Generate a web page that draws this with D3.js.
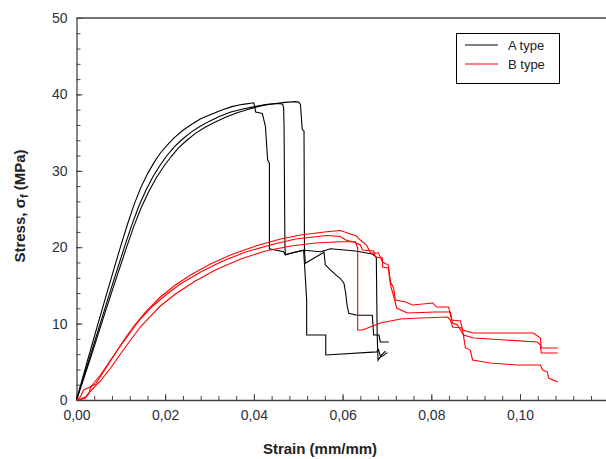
<!DOCTYPE html>
<html>
<head>
<meta charset="utf-8">
<script src="https://cdn.jsdelivr.net/npm/d3@7"></script>
<style>
body { margin: 0; background: #fff; }
svg { display: block; font-family: "Liberation Sans", Arial, sans-serif; }
</style>
</head>
<body>
<div id="chart"></div>
<script>
let w = 606;
let h = 459;

// strain (mm/mm), stress (MPa)
let aType1 = [[0,0],[0.0025,5.2],[0.005,10.3],[0.0075,15.3],[0.01,20.2],[0.0115,23],[0.013,25.6],[0.0145,27.8],[0.016,29.6],[0.0175,31.1],[0.019,32.4],[0.0205,33.4],[0.022,34.3],[0.024,35.3],[0.026,36.1],[0.028,36.8],[0.03,37.3],[0.0325,37.9],[0.035,38.4],[0.0375,38.7],[0.040,38.9],[0.0404,37.7],[0.0419,37.5],[0.0426,35.8],[0.0431,31.4],[0.0435,31.0],[0.0435,19.8],[0.0467,19.4],[0.0471,19.0],[0.0483,19.2],[0.0512,19.6],[0.0514,17.9],[0.0519,13.1],[0.0519,8.5],[0.0562,8.5],[0.0562,5.9],[0.0677,6.3],[0.0681,6.6],[0.0686,5.6],[0.0701,6.2]];
let aType2 = [[0,0],[0.0028,5.2],[0.0055,10.3],[0.0082,15.3],[0.0108,20],[0.0124,22.8],[0.014,25.3],[0.0156,27.4],[0.0172,29.2],[0.0188,30.7],[0.0204,32],[0.022,33.1],[0.0236,34],[0.0257,35],[0.0278,35.8],[0.03,36.5],[0.0322,37.1],[0.0348,37.7],[0.0375,38.1],[0.0402,38.4],[0.043,38.7],[0.0456,38.8],[0.0465,38.7],[0.0467,38.2],[0.0468,35.8],[0.047,20],[0.0471,19.0],[0.0483,19.2],[0.0512,19.6],[0.055,19.4],[0.0573,19.8],[0.0629,19.5],[0.0667,19.1],[0.0676,18.7],[0.0678,8.5],[0.068,5.2],[0.0688,5.9],[0.0697,6.4]];
let aType3 = [[0,0],[0.003,5.2],[0.0058,10.3],[0.0086,15.3],[0.0113,20],[0.0129,22.7],[0.0146,25.2],[0.0163,27.3],[0.018,29.1],[0.0197,30.6],[0.0214,31.9],[0.023,33],[0.0247,33.9],[0.0268,34.9],[0.029,35.7],[0.0313,36.4],[0.0336,37],[0.0362,37.6],[0.039,38.1],[0.0415,38.5],[0.044,38.75],[0.047,38.95],[0.0494,39.05],[0.0501,39.0],[0.0505,38.7],[0.0509,35.4],[0.0513,35.2],[0.0514,19.6],[0.0516,17.9],[0.0554,19.2],[0.0558,19.4],[0.0561,17.7],[0.0573,17.0],[0.0584,16.4],[0.0595,15.9],[0.0603,15.3],[0.0607,14.0],[0.061,12.4],[0.0614,11.35],[0.0633,11.1],[0.0667,11.1],[0.067,8.5],[0.0682,8.5],[0.0685,7.6],[0.0704,7.6]];

let bType1 = [[0,0],[0.0009,0.43],[0.0016,1.31],[0.0032,1.74],[0.0043,2.09],[0.0065,4.06],[0.0088,6.15],[0.011,8.12],[0.0133,9.95],[0.0156,11.52],[0.0189,13.48],[0.0223,15.05],[0.0257,16.36],[0.0302,17.8],[0.0347,18.98],[0.0404,20.16],[0.046,21.07],[0.0505,21.6],[0.0564,22.03],[0.0595,22.19],[0.0611,21.86],[0.0631,21.47],[0.064,20.94],[0.0654,20.29],[0.0663,19.24],[0.0681,19.24],[0.069,18.06],[0.0703,17.67],[0.0708,15.45],[0.0715,14.66],[0.0719,13.09],[0.0742,12.83],[0.0758,12.43],[0.0803,12.7],[0.0812,12.17],[0.0839,12.17],[0.0846,10.47],[0.0866,10.34],[0.087,9.16],[0.0895,8.77],[0.103,8.77],[0.1046,8.12],[0.1048,6.81],[0.1085,6.81]];
let bType2 = [[0.0005,0],[0.002,0.22],[0.0028,0.88],[0.0032,1.7],[0.0054,3.27],[0.0077,5.24],[0.0099,7.07],[0.0122,8.9],[0.0144,10.6],[0.0167,12.04],[0.0201,13.74],[0.0234,15.18],[0.028,16.75],[0.0325,18.06],[0.0381,19.37],[0.0437,20.29],[0.0494,21.07],[0.0564,21.53],[0.0595,21.4],[0.0607,20.94],[0.0625,20.68],[0.064,20.29],[0.0645,19.63],[0.067,19.5],[0.0674,18.72],[0.069,18.59],[0.069,17.41],[0.0703,17.28],[0.0708,15.05],[0.0715,13.61],[0.0722,12.04],[0.0746,11.39],[0.0809,11.52],[0.0843,11.52],[0.0848,10.08],[0.0859,9.82],[0.0873,8.51],[0.0895,8.12],[0.1039,7.59],[0.1046,7.2],[0.1048,6.15],[0.1085,6.15]];
let bType3 = [[0.0002,0],[0.0009,0.13],[0.002,0.39],[0.0032,1.18],[0.0054,2.49],[0.0077,4.19],[0.0099,6.02],[0.0122,7.85],[0.0144,9.55],[0.0167,10.99],[0.0189,12.3],[0.0223,13.87],[0.0268,15.58],[0.0313,17.02],[0.037,18.46],[0.0426,19.5],[0.0483,20.16],[0.0539,20.55],[0.0595,20.72],[0.0629,20.72],[0.0634,19.9],[0.0634,9.16],[0.0645,9.16],[0.0685,10.08],[0.0731,10.6],[0.0776,10.73],[0.0837,10.86],[0.0843,10.47],[0.0848,9.55],[0.087,9.42],[0.0873,8.25],[0.0877,6.81],[0.0888,6.54],[0.0893,5.24],[0.0933,4.84],[0.0994,4.58],[0.1046,4.58],[0.1051,3.93],[0.1062,3.66],[0.1064,2.88],[0.1085,2.36]];

let xTicks = [0, 0.02, 0.04, 0.06, 0.08, 0.10];
let yTicks = [0, 10, 20, 30, 40, 50];
let legendNames = ["A type", "B type"];
let legendColors = ["#000000", "#ff0000"];

let svg = d3.select("#chart")
    .append("svg")
    .attr("width", w)
    .attr("height", h);

let x = d3.scaleLinear().domain([0, 0.12]).range([76.5, 76.5 + 0.12 * 4435]);
let y = d3.scaleLinear().domain([0, 50]).range([400, 18]);

let xMinor = d3.range(0, 0.1201, 0.004);
let yMinor = d3.range(0, 50.01, 2);

// frame on top
svg.append("line")
    .attr("x1", x(0)).attr("x2", w)
    .attr("y1", y(50)).attr("y2", y(50))
    .attr("stroke", "#444").attr("stroke-width", 1.3);

// minor ticks (inside)
svg.append("g")
    .attr("transform", `translate(0,${y(0)})`)
    .call(d3.axisBottom(x).tickValues(xMinor).tickSize(-4).tickFormat(""))
    .call(g => g.select(".domain").remove())
    .selectAll("line").attr("stroke", "#444");
svg.append("g")
    .attr("transform", `translate(${x(0)},0)`)
    .call(d3.axisLeft(y).tickValues(yMinor).tickSize(-4).tickFormat(""))
    .call(g => g.select(".domain").remove())
    .selectAll("line").attr("stroke", "#444");

// main axes
let xAxis = svg.append("g")
    .attr("transform", `translate(0,${y(0)})`)
    .call(d3.axisBottom(x).tickValues(xTicks).tickSize(-6).tickSizeOuter(0).tickPadding(10)
        .tickFormat(d => d3.format(".2f")(d).replace(".", ",")));
let yAxis = svg.append("g")
    .attr("transform", `translate(${x(0)},0)`)
    .call(d3.axisLeft(y).tickValues(yTicks).tickSize(-6).tickSizeOuter(0).tickPadding(9));

[xAxis, yAxis].forEach(g => {
    g.select(".domain").attr("stroke", "#444").attr("stroke-width", 1.3);
    g.selectAll(".tick line").attr("stroke", "#444");
    g.selectAll("text")
        .attr("font-family", "'Liberation Sans', Arial, sans-serif")
        .attr("font-size", 14)
        .attr("fill", "#2e2e3a");
});

// curves
let line = d3.line().x(d => x(d[0])).y(d => y(d[1]));

let plot = svg.append("g");
[aType1, aType2, aType3].forEach(s => {
    plot.append("path").attr("d", line(s))
        .attr("fill", "none").attr("stroke", legendColors[0]).attr("stroke-width", 1.1);
});
[bType1, bType2, bType3].forEach(s => {
    plot.append("path").attr("d", line(s))
        .attr("fill", "none").attr("stroke", legendColors[1]).attr("stroke-width", 1.1);
});

// axis titles
svg.append("text")
    .attr("x", 320).attr("y", 454)
    .attr("text-anchor", "middle")
    .attr("font-size", 15).attr("font-weight", "bold")
    .attr("fill", "#222")
    .text("Strain (mm/mm)");

let yt = svg.append("text")
    .attr("transform", "translate(25,206) rotate(-90)")
    .attr("text-anchor", "middle")
    .attr("font-size", 15).attr("font-weight", "bold")
    .attr("fill", "#222");
yt.append("tspan").text("Stress, σ");
yt.append("tspan").attr("font-size", 11).attr("dy", 3).text("f");
yt.append("tspan").attr("dy", -3).text(" (MPa)");

// legend
let lg = svg.append("g");
lg.append("rect")
    .attr("x", 456.5).attr("y", 33.5).attr("width", 103).attr("height", 50)
    .attr("fill", "#fff").attr("stroke", "#000").attr("stroke-width", 1);
legendNames.forEach((n, i) => {
    lg.append("line")
        .attr("x1", 465).attr("x2", 498)
        .attr("y1", 45 + i * 19).attr("y2", 45 + i * 19)
        .attr("stroke", legendColors[i]).attr("stroke-width", 1);
    lg.append("text")
        .attr("x", 508).attr("y", 50 + i * 19)
        .attr("font-size", 13).attr("fill", "#222")
        .text(n);
});
</script>
</body>
</html>
